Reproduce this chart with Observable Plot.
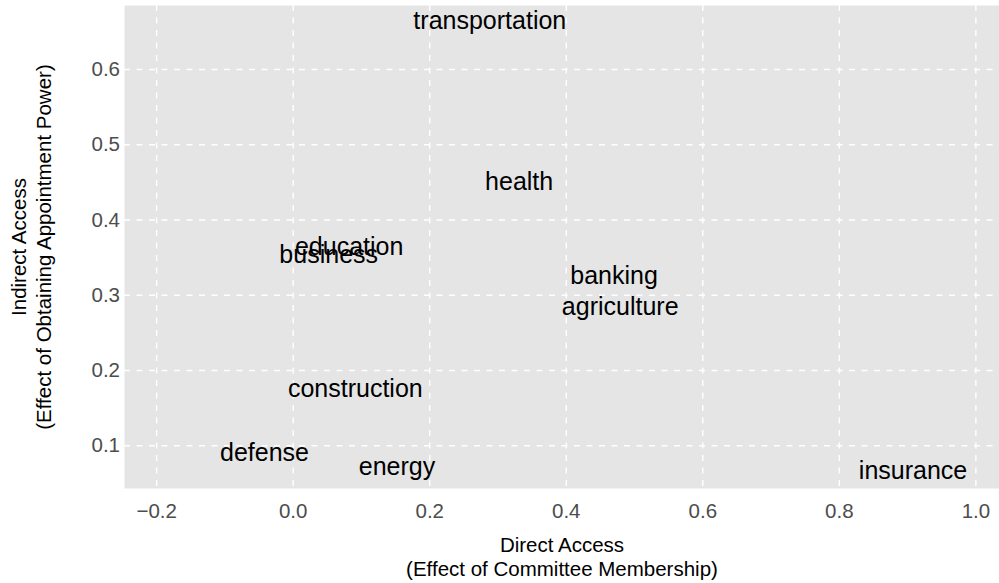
<!DOCTYPE html>
<html>
<head>
<meta charset="utf-8">
<script src="https://cdn.jsdelivr.net/npm/d3@7"></script>
<script src="https://cdn.jsdelivr.net/npm/@observablehq/plot@0.6"></script>
<style>
  html, body { margin: 0; padding: 0; background: #ffffff; }
  #chart { width: 999px; height: 583px; }
</style>
</head>
<body>
<div id="chart"></div>
<script>
const sectors = ["transportation", "health", "education", "business", "banking", "agriculture", "construction", "defense", "energy", "insurance"];
const directAccess = [0.288, 0.331, 0.082, 0.052, 0.470, 0.479, 0.091, -0.042, 0.152, 0.908];
const indirectAccess = [0.665, 0.450, 0.3635, 0.3533, 0.326, 0.284, 0.175, 0.091, 0.072, 0.066];
const xTicks = [-0.2, 0.0, 0.2, 0.4, 0.6, 0.8, 1.0];
const yTicks = [0.1, 0.2, 0.3, 0.4, 0.5, 0.6];
const xTitle = "Direct Access\n(Effect of Committee Membership)";
const yTitle = "Indirect Access\n(Effect of Obtaining Appointment Power)";

const data = sectors.map((s, i) => ({sector: s, x: directAccess[i], y: indirectAccess[i]}));
const fmt = d3.format(".1f");
const font = "'Liberation Sans', Arial, Helvetica, sans-serif";

const chart = Plot.plot({
  width: 999,
  height: 583,
  marginLeft: 124,
  marginRight: 0,
  marginTop: 5,
  marginBottom: 95,
  style: {fontFamily: font, background: "#ffffff", overflow: "visible"},
  x: {domain: [-0.2471, 1.0346], axis: null},
  y: {domain: [0.0433, 0.685], axis: null},
  marks: [
    Plot.frame({fill: "#E5E5E5", stroke: null}),
    Plot.gridX(xTicks, {stroke: "#ffffff", strokeOpacity: 1, strokeWidth: 1.4, strokeDasharray: "6,6.5"}),
    Plot.gridY(yTicks, {stroke: "#ffffff", strokeOpacity: 1, strokeWidth: 1.4, strokeDasharray: "6,6.5"}),
    Plot.axisX(xTicks, {tickSize: 0, tickPadding: 15, tickFormat: fmt, fontSize: 20.5, fill: "#4d4d4d", label: null}),
    Plot.axisY(yTicks, {tickSize: 0, tickPadding: 4.5, tickFormat: fmt, fontSize: 20.5, fill: "#4d4d4d", label: null}),
    Plot.text(data, {x: "x", y: "y", text: "sector", fontSize: 25, fill: "#000000", textAnchor: "middle"}),
    Plot.text([xTitle], {frameAnchor: "bottom", dy: 67.5, lineAnchor: "middle", lineHeight: 1.17, fontSize: 20.5, fill: "#000000", textAnchor: "middle"}),
    Plot.text([yTitle], {frameAnchor: "left", dx: -94, rotate: -90, lineAnchor: "middle", lineHeight: 1.2, fontSize: 20.5, fill: "#000000", textAnchor: "middle"})
  ]
});
document.getElementById("chart").appendChild(chart);
</script>
</body>
</html>
